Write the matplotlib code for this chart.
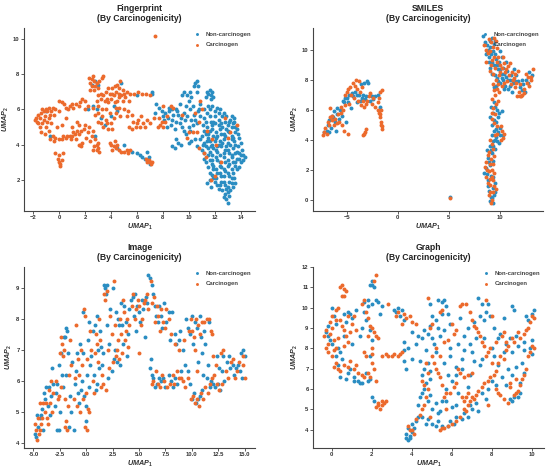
import matplotlib
matplotlib.use("Agg")
import matplotlib.pyplot as plt
import numpy as np

plt.rcParams['font.family'] = ['Liberation Sans', 'DejaVu Sans']
plt.rcParams['mathtext.fontset'] = 'custom'
plt.rcParams['mathtext.rm'] = 'Liberation Sans:bold'
plt.rcParams['mathtext.it'] = 'Liberation Sans:bold:italic'
plt.rcParams['mathtext.bf'] = 'Liberation Sans:bold'

labels = ["Non-carcinogen", "Carcinogen"]
titles = ["Fingerprint\n(By Carcinogenicity)", "SMILES\n(By Carcinogenicity)",
          "Image\n(By Carcinogenicity)", "Graph\n(By Carcinogenicity)"]
c_non = "#2a8dc2"
c_car = "#ec6a2c"

# ---------------- Fingerprint ----------------
fp_car = [(-1.5,5.5),(-1.2,5.9),(-1.0,6.0),(-0.8,6.1),(-0.5,6.1),(-1.3,5.2),(-1.5,5.0),(-1.7,5.3),(-1.8,5.5),
          (-1.0,5.0),(-0.8,4.8),(-0.5,4.5),(-0.3,4.4),(0.0,4.3),(0.2,4.3),(0.5,4.4),(-1.1,5.6),(-0.7,5.7),(-1.4,5.8),
          (0.0,6.5),(0.2,6.4),(0.5,6.1),(0.8,6.2),(1.0,6.3),(1.3,6.3),(1.6,6.4),(2.0,6.5),(2.2,6.2),
          (0.0,3.0),(0.1,2.9),(0.2,3.1),(-0.1,3.2),(0.0,3.4),(0.3,3.5),(-0.3,3.5),(0.1,2.8),
          (0.6,4.5),(0.8,4.5),(1.0,4.5),(1.2,4.6),(1.5,4.6),(1.7,4.8),(1.9,4.9),(1.3,4.3),(1.6,4.0),(1.7,3.9),
          (2.0,5.1),(2.3,5.0),(2.6,4.8),(2.8,4.3),(2.9,4.0),(3.0,3.8),(3.1,3.6),(2.7,3.9),(2.5,4.5),(2.2,4.7),
          (2.3,7.8),(2.5,7.7),(2.7,7.6),(2.9,7.5),(2.5,7.3),(2.4,7.1),(3.0,7.2),(3.3,7.8),(3.4,7.9),
          (3.0,6.8),(3.2,6.6),(3.5,6.5),(3.8,6.4),(4.0,6.6),(4.2,6.8),(4.4,7.0),(4.6,7.2),(4.7,7.6),(4.3,7.3),
          (4.5,6.5),(4.8,6.8),(5.0,6.9),(5.2,7.0),(5.5,6.9),(5.8,6.9),(6.1,7.0),(6.4,6.9),(6.7,6.9),(7.0,6.8),
          (3.3,6.0),(3.0,5.8),(2.8,5.7),(2.6,6.1),(2.0,6.0),(3.6,5.4),(3.4,5.0),(3.2,5.2),(3.0,5.3),(3.8,4.9),
          (4.0,5.2),(4.2,5.5),(4.4,5.8),(4.6,6.1),(5.0,6.0),(5.3,5.9),(5.6,5.7),(5.2,5.6),(4.1,6.9),(4.6,6.7),
          (4,4.0),(4.2,3.9),(4.4,3.8),(4.6,3.7),(4.8,3.6),(5.0,3.6),(5.2,3.7),(4.3,4.2),
          (5.6,4.9),(5.9,5.0),(6.2,5.0),(6.5,5.2),(6.8,5.4),(7.0,5.2),(6.3,5.6),(6.0,5.2),
          (6.8,3.0),(7.0,3.0),(7.1,2.9),(6.9,3.1),(7.4,10.15),
          (7.8,5.1),(8.0,5.0),(8.2,5.3),(7.7,5.5),(8.6,6.2),(10.3,4.7),(10.6,4.7),(10.8,5.3),(11.2,3.5),
          (11.3,3.3),(11.8,4.3),(12.1,4.0),(11.7,2.0),(12.8,5.5),(13.2,4.7),(13.7,5.1),(9.5,5.7),(10.5,5.8),
          (10.9,6.5),(10.8,3.8),(11.0,6.0),
          (1.4,5.3),(1.5,5.1),(1.0,5.0),(0.2,5.1),(-0.2,5.0),(0.5,5.5),(-0.4,5.7),(0.0,5.9),(1.8,4.1),(1.5,4.0),
          (-1.9,5.4),(-1.6,5.7),(-1.3,6.0),(-0.9,5.9),(-0.6,5.9),(-0.3,6.0),(-1.2,5.4),(-0.9,5.3),(-0.6,5.2),
          (-1.4,4.7),(-1.1,4.6),(-0.7,4.3),(-0.4,4.2),(0.3,4.5),(-0.8,5.5),(-1.6,5.2),
          (0.4,6.3),(0.7,6.0),(1.1,6.1),(1.5,6.2),(1.8,6.6),
          (0.9,4.3),(1.1,4.7),(1.4,4.8),(2.1,4.4),(2.4,4.2),(2.6,3.7),(2.9,3.7),(3.0,4.1),
          (2.4,7.5),(2.6,7.9),(2.8,7.3),(2.7,7.1),(3.1,7.6),(3.6,7.0),(3.4,6.8),(3.7,6.6),(3.9,6.9),(4.1,7.2),
          (4.3,6.4),(4.5,7.4),(4.6,6.9),(4.9,7.1),(4.9,6.5),(5.1,6.7),(4.4,6.1),(4.7,5.6),(3.9,5.8),(3.6,6.0),
          (3.3,5.6),(3.7,5.2),(4.1,4.9),(3.0,6.2),(2.9,6.5),(3.2,6.9),(3.8,7.2),(5.4,6.5),(5.7,5.3),(5.4,5.0),
          (3.9,4.1),(4.1,3.7),(4.5,4.0),(5.3,3.5),(5.5,3.7),
          (6.1,5.4),(6.6,5.0),(7.3,5.5),(7.6,5.0),(7.9,5.3),(8.3,5.6),
          (7.2,3.0),(6.7,3.2),(8.0,6.2),(8.8,6.1),(10.0,4.7),(12.5,3.0),(12.0,2.2),(13.0,4.4),(11.4,4.8),(9.9,4.4)]
fp_non = [(11.4,7.0),(11.6,7.1),(11.8,7.0),(11.7,6.8),(11.5,6.9),(11.9,6.7),(11.7,6.6),
          (10.5,7.5),(10.6,7.6),(10.4,7.3),(10.6,7.0),(10.2,6.7),(10.0,6.5),(9.8,6.2),(9.6,7.0),(9.5,6.8),
          (10.3,6.2),(10.8,6.0),(11.2,6.0),(11.6,6.0),(12.0,5.9),(12.3,5.8),(12.0,5.6),(11.6,5.6),(11.2,5.5),
          (10.9,5.6),(10.5,5.4),(10.2,5.4),(9.9,5.6),(9.6,5.8),(9.2,5.7),(9.0,6.0),(8.7,6.0),(8.5,5.9),(8.2,5.8),
          (8.0,5.6),(8.4,5.5),(8.7,5.4),(9.0,5.3),(9.3,5.2),(8.6,5.1),(8.9,4.9),(7.9,5.9),(7.7,6.1),(7.5,6.3),
          (7.4,5.8),(8.3,5.0),(9.5,5.0),(10.0,5.0),(10.1,4.8),(9.8,4.6),
          (12.8,5.3),(13.0,5.1),(13.2,5.4),(13.4,5.2),(13.6,5.0),(12.5,5.2),(11.8,5.1),(11.3,5.3),
          (11.2,4.8),(11.5,4.6),(11.8,4.9),(12.1,4.7),(12.4,4.9),(12.7,4.6),(13.0,4.8),(13.3,4.5),(13.6,4.7),(13.8,4.6),
          (10.9,4.3),(11.2,4.1),(11.5,4.4),(11.8,4.0),(12.1,4.4),(12.4,4.2),(12.7,4.3),(13.0,4.1),(13.3,4.3),(13.6,4.0),(14.0,4.1),
          (11.0,3.7),(11.3,3.9),(11.6,3.6),(11.9,3.8),(12.2,3.6),(12.5,3.9),(12.8,3.7),(13.1,3.5),(13.4,3.8),(13.7,3.6),(14.0,3.4),
          (11.2,3.2),(11.5,3.4),(11.8,3.1),(12.1,3.3),(12.4,3.0),(12.7,3.3),(13.0,3.1),(13.3,3.3),(13.6,3.0),(13.9,3.2),(14.2,3.1),
          (11.5,2.7),(11.8,2.9),(12.1,2.6),(12.4,2.8),(12.7,2.6),(13.0,2.8),(13.3,2.6),(13.6,2.8),(13.9,2.7),
          (11.8,2.3),(12.1,2.1),(12.4,2.4),(12.7,2.2),(13.0,2.4),(13.3,2.1),
          (11.4,1.8),(11.7,1.6),(12.0,1.9),(12.4,1.7),(12.7,1.9),(13.0,1.6),(13.3,1.8),(13.6,1.8),
          (12.6,1.4),(12.8,1.2),(13.0,1.3),(13.1,1.1),(12.9,0.9),(13.0,0.7),
          (10.5,4.3),(10.2,4.2),(10.0,4.1),(9.4,4.0),(9.2,4.1),(8.9,3.8),(8.7,3.9),(9.0,4.3),(10.6,3.9),
          (11.5,6.2),(12.2,6.1),(12.6,5.6),(13.1,5.3),(12.3,5.4),(11.9,5.3),(12.9,4.9),(12.2,3.9),(11.6,4.2),
          (6.0,3.5),(6.2,3.4),(6.4,3.3),(6.6,3.2),(6.8,3.6),(6.9,3.3),(7.0,2.9),(5.6,3.6),(4.5,3.8),
          (2.5,7.4),(2.8,7.6),(3.0,7.4),(4.8,7.5),(4.2,6.2),(4.5,5.9),(4.0,5.6),(3.2,5.5),(2.6,6.2),(2.2,6.0),
          (2.9,6.0),(3.5,5.1),(2.8,4.5),(-0.7,4.5),(-1.0,5.9),(6.0,6.8),(7.2,7.0),(7.2,6.9),(5.0,4.0),
          (11.1,5.1),(11.4,5.0),(11.7,5.3),(12.0,5.2),(12.3,5.1),(12.6,5.0),(12.9,5.6),(13.3,5.0),(13.5,5.3),(13.7,4.9),
          (11.0,4.5),(11.3,4.6),(11.6,4.8),(11.9,4.5),(12.2,4.5),(12.5,4.6),(12.8,4.5),(13.1,4.7),(13.4,4.4),(13.9,4.4),
          (11.1,4.0),(11.4,4.2),(11.7,3.9),(12.0,4.2),(12.3,4.0),(12.6,4.1),(12.9,3.9),(13.2,4.0),(13.5,4.2),(13.8,3.9),(14.1,3.7),
          (11.2,3.5),(11.5,3.8),(11.8,3.4),(12.1,3.7),(12.4,3.4),(12.7,3.5),(13.0,3.7),(13.3,3.4),(13.6,3.5),(13.9,3.5),(14.2,3.4),
          (11.3,3.0),(11.6,3.1),(11.9,2.8),(12.2,3.1),(12.5,2.7),(12.8,3.0),(13.1,2.9),(13.4,3.0),(13.7,3.2),(14.0,3.0),(14.3,3.3),
          (11.6,2.4),(11.9,2.6),(12.2,2.4),(12.5,2.2),(12.8,2.5),(13.1,2.2),(13.4,2.4),(13.7,2.6),(13.5,2.1),
          (11.6,2.0),(11.9,2.1),(12.2,1.7),(12.5,1.9),(12.8,1.7),(13.1,1.9),(13.4,1.6),(12.3,1.5),(12.9,1.5),(13.2,1.4),(12.7,1.0),
          (11.8,6.2),(12.4,6.0),(11.4,5.8),(10.7,5.9),(10.4,5.7),(10.1,6.0),(9.7,5.4),(9.4,5.5),(9.1,5.9),(8.8,5.7),
          (8.1,5.4),(8.5,6.1),(9.3,6.3),(10.1,7.0),(10.7,7.3),(11.3,6.7),(10.9,6.3),(9.9,6.8),(10.3,5.1),(10.6,5.2),
          (9.6,4.8),(12.7,5.8),(13.3,5.6),(13.5,5.5)]

# ---------------- SMILES ----------------
sm_non = [(-7.2,4.5),(-7.0,4.6),(-6.8,5.3),(-6.5,5.6),(-6.3,5.9),(-6.0,6.1),(-6.2,5.2),(-5.8,5.4),(-5.5,5.6),
          (-5.3,6.5),(-5.0,6.8),(-4.8,7.0),(-4.5,7.1),(-4.2,7.2),(-3.8,7.0),(-3.5,6.8),(-3.2,6.7),(-3.0,7.9),
          (-3.3,7.8),(-3.6,7.7),(-2.7,6.6),(-2.4,6.7),(-2.2,6.9),(-2.0,7.0),(-1.8,6.2),(-4.0,6.5),(-6.6,4.8),
          (-6.9,5.0),(-5.1,5.2),(-4.6,6.1),(-6.1,4.6),(5.1,0.2),
          (9.0,-0.1),(9.2,0.1),(9.4,0.3),(8.9,0.6),(9.3,0.8),(9.5,1.1),(8.8,1.3),(9.1,1.6),(8.4,1.8),(8.6,2.1),
          (9.0,2.3),(9.3,2.6),(8.8,2.8),(9.2,3.1),(9.5,3.4),(9.0,3.6),(9.3,3.9),(9.6,4.2),(9.8,4.5),(10.0,4.8),
          (9.4,4.6),(9.2,5.0),(9.6,5.2),(9.8,5.5),(9.3,5.8),(9.1,6.2),(9.4,6.5),(9.7,6.0),(10.2,5.9),(9.9,3.8),
          (10.3,4.3),(8.7,3.3),(9.5,0.5),(9.3,-0.2),
          (8.3,10.9),(9.2,10.8),(9.5,10.6),(9.0,10.2),(8.6,9.7),(8.9,9.5),(9.3,9.9),(9.6,9.4),(9.4,9.0),(9.0,8.8),
          (9.8,8.7),(10.1,8.4),(9.7,8.1),(10.3,8.0),(10.6,8.2),(11.0,8.0),(11.3,7.8),(11.6,8.3),(12.0,7.5),
          (12.3,7.7),(12.6,8.0),(12.9,8.5),(10.5,7.6),(10.8,7.4),(11.2,7.2),(9.6,7.6),(9.9,9.2),(10.3,8.8),
          (10.7,8.6),(9.2,8.4),(8.8,10.0),(10.0,7.8),(11.8,7.9),(9.4,7.5),(12.5,7.2),(8.7,10.3),(10.2,9.5),
          (-6.4,5.5),(-6.0,5.7),(-5.7,6.0),(-5.2,6.8),(-4.9,6.5),(-4.4,6.9),(-4.0,7.0),(-3.7,6.6),(-3.4,7.0),
          (-3.1,6.9),(-2.9,7.8),(-2.5,6.9),(-5.4,6.6),(-6.8,4.5),
          (9.1,0.2),(8.8,0.9),(9.3,1.5),(8.7,1.7),(8.9,2.5),(9.1,3.3),(9.3,3.6),(9.5,4.0),(9.2,4.3),(9.6,4.7),
          (9.4,5.3),(9.9,5.8),(9.5,6.2),(9.0,5.5),(9.7,3.9),(10.0,4.3),
          (8.5,10.5),(9.0,10.6),(9.4,10.4),(8.7,9.9),(9.1,9.7),(9.5,9.7),(9.7,9.0),(10.0,8.7),(10.4,8.4),(10.2,8.1),
          (10.8,8.0),(11.1,8.3),(11.5,7.9),(12.2,8.0),(12.8,7.8),(13.1,8.3),(12.2,7.3),(11.0,7.6),(10.4,7.4),
          (9.8,7.9),(9.5,8.3),(9.2,9.2),(8.9,9.2),(10.6,9.2),(11.4,8.7),(10.0,9.9)]
sm_car = [(-7.3,4.3),(-7.1,4.8),(-6.9,5.2),(-6.7,5.5),(-6.5,5.3),(-6.3,5.0),(-6.0,5.1),(-5.9,5.7),(-5.6,5.8),
          (-5.4,6.0),(-5.2,6.3),(-5.0,7.2),(-4.7,7.5),(-4.4,7.8),(-4.1,8.0),(-3.8,7.9),(-3.5,7.5),(-4.3,6.8),
          (-3.9,6.6),(-3.6,6.3),(-3.3,6.2),(-3.0,6.6),(-2.8,6.9),(-2.5,6.4),(-2.2,6.2),(-2.0,6.5),(-1.8,7.2),
          (-1.6,7.3),(-1.9,5.8),(-1.8,5.5),(-1.7,5.2),(-1.6,4.9),(-1.6,4.7),(-2.0,6.0),(-3.4,4.3),(-3.3,4.4),
          (-3.2,4.5),(-3.1,4.7),(-4.9,4.4),(-5.3,4.6),(-5.5,5.0),(-4.8,6.4),(-6.7,6.1),(5.1,0.1),
          (9.1,-0.2),(8.9,0.3),(9.3,0.5),(9.6,0.7),(9.0,1.0),(9.3,1.3),(8.6,1.5),(8.9,1.9),(9.2,2.0),(8.6,2.5),
          (9.1,2.7),(9.4,2.9),(8.9,3.2),(9.3,3.4),(9.0,4.0),(9.5,4.3),(10.1,4.0),(10.4,4.4),(10.2,4.6),(9.7,4.9),
          (9.2,5.4),(9.5,5.7),(9.3,6.1),(9.6,6.4),(9.2,6.7),(9.5,7.0),(9.9,7.2),(8.5,2.2),(9.4,1.8),
          (8.4,10.3),(9.1,10.5),(9.3,10.2),(9.7,10.1),(8.8,9.8),(9.2,9.3),(9.5,8.8),(9.8,9.5),(10.0,9.0),
          (10.4,9.1),(10.8,8.9),(11.2,8.5),(10.5,8.5),(9.9,8.3),(10.7,7.9),(11.1,7.7),(11.5,7.5),(11.9,7.2),
          (12.2,7.0),(12.0,6.9),(11.7,6.9),(12.4,7.4),(12.7,7.8),(13.0,8.2),(13.2,8.7),(12.6,8.4),(11.4,8.1),
          (10.2,7.6),(9.3,7.7),(9.0,8.6),(11.8,8.6),(12.9,7.6),(9.6,10.6),(8.6,9.2),(9.1,9.0),
          (-7.2,4.5),(-7.0,4.4),(-6.8,5.0),(-6.5,5.6),(-6.2,5.4),(-5.8,5.2),(-5.6,6.2),(-5.2,7.0),(-4.9,7.4),
          (-4.6,7.0),(-4.2,7.6),(-4.0,7.4),(-3.7,7.2),(-3.4,6.6),(-3.1,6.4),(-2.7,7.1),(-2.4,6.8),(-1.9,6.8),
          (-1.7,6.0),(-1.7,5.0),(-1.8,5.7),
          (9.2,0.0),(9.0,0.5),(9.4,0.9),(8.8,1.1),(9.2,1.5),(8.7,2.0),(9.0,2.4),(8.8,3.0),(9.2,3.7),(9.7,4.4),
          (10.3,4.1),(10.1,4.9),(9.4,5.1),(9.2,5.8),(9.8,6.6),(9.4,7.3),(9.7,7.4),(9.0,1.4),(9.3,2.4),
          (8.6,10.0),(9.0,9.9),(9.4,9.5),(9.7,9.2),(10.2,8.8),(10.6,8.7),(10.9,8.3),(11.3,8.0),(11.6,7.8),
          (12.0,7.7),(12.4,7.1),(12.1,6.9),(12.8,8.2),(13.0,8.0),(10.4,7.8),(9.8,7.7),(10.0,8.5),(9.3,8.4),
          (9.6,8.0),(11.0,9.1),(10.3,9.5),(9.4,10.8),(8.9,10.7),(11.5,8.4)]

# ---------------- Image ----------------
im_non = [(-4.8,4.2),(-4.6,4.5),(-4.4,4.8),(-4.7,4.9),(-4.2,5.1),(-4.0,5.6),(-3.8,5.8),(-3.6,5.2),(-3.4,4.9),
          (-3.2,6.4),(-2.9,5.6),(-2.8,4.4),(-2.6,4.4),(-2.5,5.0),(-2.4,6.9),(-2.2,5.8),(-2.0,7.4),(-1.8,7.6),
          (-1.9,6.2),(-1.6,4.5),(-1.4,5.0),(-1.3,6.6),(-1.0,6.3),(-0.8,5.6),(-0.6,7.2),(-0.4,6.0),(-0.2,5.5),
          (0.0,5.2),(0.2,7.3),(0.3,7.9),(0.5,6.8),(0.7,6.2),(0.9,5.7),(1.1,7.0),(1.3,7.6),(1.5,6.5),(1.7,9.1),
          (1.9,8.8),(2.1,6.1),(2.3,8.3),(2.5,9.0),(2.7,7.0),(2.9,6.6),(3.1,7.8),(3.3,8.5),(3.5,7.2),(3.8,7.9),
          (4.1,8.3),(4.4,8.7),(4.7,7.6),(5.0,8.2),(5.3,8.6),(5.6,7.4),(5.9,9.4),(6.2,9.1),(6.5,8.4),(6.8,7.9),
          (7.1,8.1),(7.4,8.5),(7.8,8.2),(6.0,6.4),(6.3,6.1),(6.7,5.9),(7.1,6.0),(7.5,5.8),(8.0,6.0),(8.4,6.1),
          (8.8,7.3),(9.2,7.0),(8.4,7.5),(9.6,6.3),(10.0,5.4),(10.4,5.3),(10.8,5.5),(10.3,7.9),(10.8,8.1),
          (11.2,7.6),(11.0,6.9),(11.5,6.5),(11.8,6.0),(12.2,5.8),(12.5,5.9),(12.9,6.3),(13.3,6.6),(13.6,6.4),
          (14.0,6.2),(14.4,6.5),(14.8,6.1),(15.0,6.8),(13.0,6.8),(12.4,6.8),(9.5,8.0),(9.8,7.5),(10.6,6.6),
          (-3.0,5.2),(-1.2,4.4),(-0.5,5.7),(0.0,4.7),(1.0,8.1),(-0.3,8.2),(2.0,7.8),(3.9,6.8),(4.6,8.8),
          (5.8,8.5),(7.9,7.3),(11.6,7.9),(14.7,6.9),(6.1,6.7),
          (-4.9,4.3),(-4.3,4.9),(-4.1,4.4),(-3.9,5.4),(-3.5,5.8),(-3.3,5.5),(-3.1,5.9),(-2.8,5.9),(-2.6,6.5),
          (-2.3,6.2),(-2.1,7.4),(-1.9,7.7),(-1.7,6.9),(-1.5,5.5),(-1.1,5.9),(-0.9,6.9),(-0.7,5.3),(-0.3,6.9),
          (0.1,6.2),(0.3,5.8),(0.4,6.5),(0.6,7.6),(0.8,7.8),(1.0,5.9),(1.2,6.4),(1.4,7.1),(1.6,6.9),(1.8,9.0),
          (2.0,9.1),(2.2,7.2),(2.4,6.3),(2.6,6.7),(2.8,8.2),(3.0,8.0),(3.2,6.5),(3.4,7.8),(3.6,8.4),(4.0,7.5),
          (4.2,8.6),(4.5,8.1),(4.8,8.4),(5.1,7.9),(5.4,8.3),(5.7,8.7),(6.0,9.3),(6.3,8.8),(6.6,8.1),(6.9,8.4),
          (7.2,7.7),(7.6,7.9),(8.1,8.2),(8.5,7.2),(8.9,7.6),(6.2,6.2),(6.5,5.8),(6.9,6.1),(7.3,6.1),(7.8,6.2),
          (8.2,5.8),(8.6,5.9),(9.0,6.3),(9.4,6.5),(9.8,5.9),(10.2,5.6),(10.6,5.4),(11.0,5.7),(11.4,6.1),
          (10.0,8.1),(10.5,7.7),(10.9,7.4),(11.3,7.2),(11.1,6.2),(11.7,5.8),(12.0,5.9),(12.7,5.7),(13.1,6.0),
          (13.5,6.8),(13.9,6.5),(14.2,6.4),(14.6,6.3),(14.9,7.0),(12.6,6.4),(9.6,7.7),(10.1,7.2)]
im_car = [(-4.9,4.6),(-4.7,4.1),(-4.5,4.3),(-4.3,4.6),(-4.1,5.3),(-3.9,5.0),(-3.7,4.8),(-3.5,5.7),(-3.3,6.0),
          (-3.1,5.6),(-2.7,5.4),(-2.5,6.9),(-2.3,7.2),(-2.1,7.0),(-2.0,4.5),(-1.8,4.4),(-1.7,5.2),(-1.5,7.3),
          (-1.2,5.4),(-1.0,7.8),(-0.8,6.7),(-0.6,5.0),(-0.4,6.5),(-0.2,8.3),(-0.1,4.5),(0.1,4.4),(0.2,5.1),
          (0.4,7.6),(0.6,6.0),(0.8,6.9),(1.0,7.2),(1.2,8.0),(1.4,5.8),(1.6,5.9),(1.8,8.6),(2.0,8.9),(2.2,6.4),
          (2.4,7.5),(2.6,9.2),(2.8,6.8),(3.0,7.3),(3.2,8.0),(3.4,6.9),(3.6,8.2),(3.8,7.6),(4.0,7.1),(4.3,8.4),
          (4.6,8.0),(4.9,8.6),(5.2,7.8),(5.5,8.5),(5.8,8.8),(6.1,9.2),(6.4,8.7),(6.7,8.4),(7.0,7.6),(7.3,7.9),
          (7.6,8.3),(6.2,5.9),(6.6,6.3),(7.0,5.8),(7.4,6.0),(7.9,5.9),(8.2,6.2),(8.6,6.3),(9.0,6.1),(9.3,7.3),
          (9.7,7.6),(9.9,8.0),(10.2,7.4),(10.6,7.8),(11.0,7.9),(11.4,8.0),(11.8,7.6),(10.1,5.5),(10.5,5.4),
          (10.9,5.6),(11.3,5.8),(11.7,5.9),(12.1,6.2),(12.6,5.7),(13.0,7.0),(13.4,6.1),(13.9,6.7),(14.3,6.3),
          (14.9,6.5),(15.0,6.1),(12.3,6.5),(8.8,7.0),(9.4,5.8),(10.3,7.0),(0.0,5.6),(-3.6,4.6),(-2.4,5.8),
          (1.9,5.7),(5.0,6.9),(7.8,8.0),(12.0,6.8),(-4.4,5.3),
          (-4.8,4.4),(-4.6,4.8),(-4.4,4.4),(-4.2,4.8),(-3.8,5.3),(-3.4,5.3),(-3.2,5.0),(-2.9,6.0),(-2.6,5.5),
          (-2.4,7.4),(-2.2,6.8),(-2.0,5.4),(-1.9,4.7),(-1.6,6.2),(-1.4,6.5),(-1.1,6.1),(-0.9,5.2),(-0.7,6.2),
          (-0.5,7.0),(-0.3,5.4),(-0.1,8.1),(0.1,6.7),(0.3,5.0),(0.5,7.0),(0.7,5.6),(0.9,7.5),(1.1,6.6),(1.3,7.3),
          (1.5,6.2),(1.7,8.8),(2.1,7.0),(2.3,8.1),(2.5,6.6),(2.7,7.8),(2.9,7.0),(3.1,6.7),(3.3,7.5),(3.5,8.6),
          (3.7,7.3),(3.9,8.0),(4.1,7.8),(4.4,8.8),(4.7,8.3),(5.0,8.4),(5.3,8.0),(5.6,8.6),(5.9,8.3),(6.2,8.5),
          (6.5,7.9),(6.8,8.1),(7.1,8.3),(7.5,7.7),(8.0,7.5),(8.4,7.2),(6.3,6.0),(6.8,5.9),(7.2,6.2),(7.7,5.8),
          (8.3,5.9),(8.8,6.1),(9.2,6.0),(9.6,6.1),(9.9,5.4),(10.3,5.3),(10.7,5.2),(11.1,5.4),(11.5,5.6),
          (10.0,7.6),(10.4,8.0),(10.8,7.5),(11.2,7.9),(11.6,8.0),(11.9,7.5),(11.9,6.1),(12.4,5.9),(12.9,5.9),
          (13.2,6.3),(13.7,6.6),(14.1,6.1),(14.5,6.6),(14.9,6.8),(12.8,6.9),(10.5,6.3)]

# ---------------- Graph ----------------
gr_non = [(-0.3,8.8),(-0.1,8.4),(0.1,9.6),(0.3,8.0),(0.5,7.5),(0.6,9.7),(0.8,9.8),(1.0,9.5),(1.2,9.9),(0.4,6.6),
          (0.7,6.5),(1.1,6.4),(1.3,6.4),(1.5,6.3),(1.7,6.8),(1.9,6.5),(2.0,11.3),(1.9,11.1),(2.1,11.0),(1.6,10.3),
          (1.8,10.4),(2.0,10.2),(2.3,10.3),(2.5,10.1),(1.7,9.4),(2.0,8.4),(1.9,7.6),(0.2,7.6),(0.9,7.0),(-0.2,9.1),
          (1.4,8.6),(0.6,8.6),(2.0,5.6),(2.1,5.4),(1.5,9.0),(0.0,10.0),(1.0,8.2),(2.4,9.7),
          (3.1,9.9),(3.4,9.6),(3.6,9.4),(3.3,10.0),(3.6,8.3),(3.8,8.0),(4.0,7.5),(3.6,7.4),(3.7,7.0),(4.3,8.6),
          (4.6,8.9),(4.9,9.1),(5.2,9.4),(5.3,10.4),(5.5,10.3),(5.7,10.1),(5.8,9.7),(5.4,8.6),(5.1,8.2),(4.7,7.9),
          (4.4,7.4),(4.5,6.7),(4.7,6.3),(4.5,5.8),(4.8,5.4),(5.0,5.0),(5.3,4.8),(5.5,5.4),(5.7,6.0),(6.0,6.4),
          (6.2,7.1),(5.9,7.6),(6.3,8.2),(6.6,8.6),(6.8,9.0),(7.1,9.3),(7.3,10.5),(7.5,10.2),(7.7,9.8),(7.9,9.6),
          (8.1,9.0),(8.4,8.7),(8.7,8.2),(9.0,7.8),(9.3,8.1),(9.6,8.3),(9.9,8.0),(10.0,7.7),(9.8,9.4),(10.0,9.7),
          (9.0,10.1),(9.1,9.9),(8.9,5.5),(9.1,5.6),(9.4,5.8),(9.6,6.8),(9.2,7.1),(8.8,7.0),(8.5,6.6),(8.2,6.2),
          (7.8,6.0),(7.5,5.8),(7.2,5.3),(7.0,5.0),(6.8,4.6),(6.5,4.5),(6.2,5.2),(6.1,4.3),(5.8,4.2),(5.5,4.2),
          (5.2,4.2),(5.0,4.3),(4.8,4.5),(4.5,4.6),(4.2,4.4),(4.0,4.3),(3.8,4.1),(3.7,3.6),(3.8,3.5),(3.9,3.7),
          (4.0,3.9),(4.3,5.2),(5.9,8.0),(6.5,7.5),(7.0,7.8),(7.5,7.5),(8.0,8.0),(6.4,9.5),(5.0,9.6),(4.9,10.2),
          (7.6,8.5),(8.3,7.2),(9.4,6.3),(6.9,6.7),(5.6,7.3),(4.9,6.9),(3.6,7.9),(8.6,9.5),(9.5,7.3),
          (-0.2,8.6),(0.0,8.2),(0.2,9.2),(0.4,7.8),(0.7,9.3),(0.9,9.7),(1.1,6.6),(1.4,6.3),(1.8,6.4),(2.0,11.1),
          (1.8,10.1),(2.2,10.4),(1.6,9.8),(1.9,8.9),(0.8,6.8),(0.3,7.2),
          (3.2,9.8),(3.5,9.9),(4.2,8.2),(4.0,8.8),(4.5,8.5),(4.8,8.7),(5.0,8.5),(5.3,9.0),(5.5,9.7),(5.6,10.4),
          (5.9,9.2),(5.6,8.9),(5.2,7.8),(4.8,7.3),(4.6,7.0),(4.9,6.5),(4.6,6.0),(4.4,5.6),(4.9,5.7),(5.2,5.3),
          (5.4,4.9),(5.7,5.4),(6.0,5.1),(6.3,5.8),(6.2,6.7),(6.5,7.0),(6.6,7.9),(6.9,8.2),(7.2,8.5),(7.4,9.6),
          (7.8,10.2),(7.6,9.4),(8.3,8.5),(8.6,7.8),(8.9,8.5),(9.2,8.6),(9.6,7.9),(10.0,8.4),(9.7,9.6),(10.1,9.9),
          (9.0,5.4),(9.3,5.6),(9.0,6.7),(8.7,6.2),(8.0,6.4),(7.7,5.5),(7.3,4.9),(6.9,5.2),(6.6,4.8),(6.2,4.6),
          (5.9,4.4),(5.3,4.4),(4.7,4.3),(4.3,4.6),(3.9,3.6),(3.7,3.8),(4.1,4.1),(5.8,6.7),(6.8,6.1),(7.4,7.2),
          (8.1,7.6),(7.1,7.4)]
gr_car = [(-0.4,8.6),(-0.2,8.2),(0.0,9.0),(0.1,7.9),(0.2,7.3),(0.3,7.0),(0.0,7.6),(-0.1,9.3),(0.2,9.9),(0.4,9.4),
          (0.5,11.1),(0.6,10.9),(0.7,10.8),(0.5,10.6),(0.6,8.9),(0.8,8.3),(1.0,9.2),(0.6,7.2),(0.9,7.4),(1.1,7.0),
          (1.3,6.8),(1.6,6.6),(1.8,6.8),(2.0,7.3),(2.2,6.4),(1.5,10.2),(1.7,9.8),(1.9,9.1),(2.1,8.8),(2.3,8.5),
          (2.0,8.0),(1.6,7.8),(2.2,11.6),(2.1,11.3),(1.8,8.6),(1.2,8.9),(0.3,8.5),(-0.3,8.0),(0.8,9.6),(2.2,5.1),
          (2.4,5.0),(2.6,5.3),(2.5,5.2),(2.3,5.2),(2.7,5.4),
          (2.5,7.6),(2.8,7.6),(3.1,7.7),(3.3,7.6),(3.5,7.8),(2.8,10.2),(3.2,9.6),(3.5,9.2),(3.7,9.5),(3.9,9.6),(4.2,9.2),
          (3.8,4.2),(3.9,4.0),(4.1,3.8),(4.4,4.7),(4.6,5.2),(4.8,6.0),(4.5,6.4),(4.7,7.3),(5.0,7.6),(5.2,7.0),
          (5.4,6.6),(5.6,5.6),(5.9,5.8),(5.4,4.0),(5.6,4.1),(6.0,4.3),(6.4,4.6),(6.7,4.9),(6.9,5.4),(6.5,5.6),
          (6.8,5.8),(7.1,5.5),(7.3,5.9),(7.6,6.3),(7.9,6.6),(8.2,6.9),(8.0,7.3),(8.4,7.6),(8.7,7.9),(9.0,8.5),
          (9.3,8.8),(9.6,8.7),(9.8,9.0),(10.0,9.6),(10.1,8.0),(9.9,7.8),(9.7,7.0),(9.5,6.5),(9.3,5.9),(9.1,5.7),
          (8.8,5.3),(8.4,5.7),(8.2,6.0),(7.8,7.8),(7.6,8.1),(7.4,8.6),(7.2,9.0),(7.0,9.4),(6.7,10.2),(6.4,10.1),
          (6.1,8.7),(5.8,8.4),(5.5,9.9),(4.8,10.5),(4.9,9.0),(5.2,8.0),(6.3,7.0),(6.1,6.1),(6.6,6.6),(7.7,10.4),
          (8.2,8.3),(8.6,8.8),(8.9,6.3),(9.2,6.5),(5.7,5.0),(4.9,4.6),(7.8,5.2),(6.0,9.2),(8.0,9.6),(7.0,6.8),
          (-0.3,8.9),(-0.1,8.7),(0.1,8.4),(0.2,8.0),(0.1,7.1),(0.4,6.9),(-0.2,7.8),(0.0,9.6),(0.3,10.0),(0.5,9.1),
          (0.4,11.0),(0.6,10.6),(0.7,8.6),(0.9,8.8),(1.1,9.6),(0.8,7.1),(1.2,7.2),(1.5,6.7),(1.9,6.6),(2.1,7.0),
          (1.6,10.4),(1.8,9.5),(2.0,9.0),(2.2,8.6),(1.7,7.6),(2.0,7.7),(0.6,8.1),(0.2,9.4),(2.3,5.3),(2.5,5.4),
          (2.7,7.7),(3.0,7.6),(3.4,7.7),(3.3,9.8),(3.6,9.7),(4.0,9.3),
          (4.0,4.0),(4.2,4.5),(4.5,5.0),(4.7,5.6),(4.6,6.2),(4.8,6.8),(5.1,7.3),(5.3,6.8),(5.5,6.2),(5.7,5.8),
          (5.5,4.1),(5.8,4.2),(6.2,4.4),(6.6,5.0),(6.8,5.2),(6.6,5.4),(6.7,5.6),(7.0,5.6),(7.2,5.7),(7.5,6.1),
          (7.8,6.4),(8.1,6.7),(8.3,7.3),(8.6,7.5),(8.8,8.1),(9.1,8.3),(9.4,8.5),(9.7,8.9),(9.9,9.3),(10.0,8.1),
          (9.8,7.6),(9.6,6.7),(9.4,6.2),(9.2,5.8),(8.6,5.5),(8.3,5.8),(7.9,8.0),(7.5,8.3),(7.3,8.8),(7.1,9.1),
          (6.9,9.8),(6.5,10.2),(6.2,8.9),(5.6,8.3),(5.4,9.8),(5.0,9.2),(5.4,7.6),(6.4,6.8),(6.2,6.3),(6.8,6.7),
          (8.5,8.6),(8.7,8.3),(8.9,6.1),(7.7,7.6),(10.1,9.5)]

panels = [(fp_non, fp_car), (sm_non, sm_car), (im_non, im_car), (gr_non, gr_car)]
xticks = [list(range(-2, 15, 2)), [-5, 0, 5, 10], [-5.0, -2.5, 0.0, 2.5, 5.0, 7.5, 10.0, 12.5, 15.0], [0, 2, 4, 6, 8, 10]]

W, H = 550, 470
fig = plt.figure(figsize=(W/100, H/100), dpi=100)
rects = [(24, 28, 255, 211), (313, 28, 543, 211), (24, 267, 255, 448), (313, 267, 544, 448)]
for i, ((non, car), r) in enumerate(zip(panels, rects)):
    l, t, rr, b = r
    ax = fig.add_axes([l/W, 1-b/H, (rr-l)/W, (b-t)/H])
    non = np.array(non); car = np.array(car)
    ax.scatter(non[:, 0], non[:, 1], s=8, c=c_non, linewidths=0, label=labels[0])
    ax.scatter(car[:, 0], car[:, 1], s=8, c=c_car, linewidths=0, label=labels[1])
    ax.set_xticks(xticks[i])
    if i == 2:
        ax.set_xticklabels([f"{v:.1f}" for v in xticks[i]])
    for s in ["top", "right"]:
        ax.spines[s].set_visible(False)
    for s in ["left", "bottom"]:
        ax.spines[s].set_linewidth(0.8)
        ax.spines[s].set_color("#444444")
    ax.tick_params(labelsize=4.2, length=2, width=0.6, pad=1.2, colors="#444444", labelcolor="#333333")
    for lab in ax.get_xticklabels() + ax.get_yticklabels():
        lab.set_fontweight("bold")
    ax.set_xlabel(r"$\mathit{UMAP}_1$", fontsize=5.2, labelpad=1, color="#333333")
    ax.set_ylabel(r"$\mathit{UMAP}_2$", fontsize=5.2, labelpad=1.5, color="#333333")
    ax.set_title(titles[i], fontsize=6.2, fontweight="bold", pad=5, color="#222222", linespacing=1.15)
    leg = ax.legend(loc="upper right", frameon=False, prop={"size": 4.3, "weight": "bold"}, markerscale=0.75,
                    handletextpad=0.8, borderaxespad=0.2, labelspacing=0.9, handlelength=1.2)
    for txt in leg.get_texts():
        txt.set_color("#444444")
fig.savefig("out.png", dpi=100)
